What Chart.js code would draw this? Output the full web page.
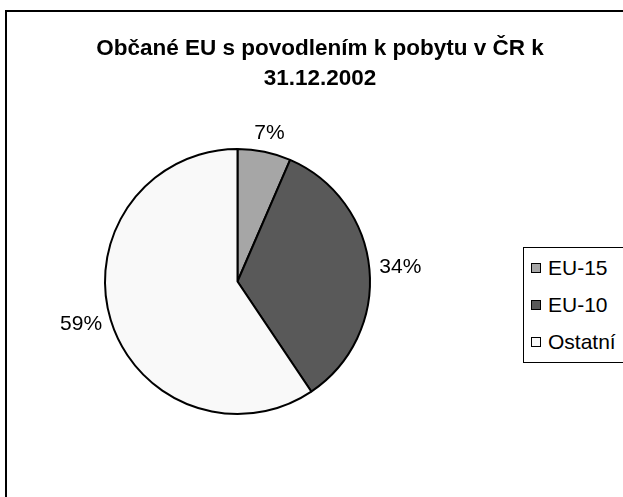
<!DOCTYPE html>
<html>
<head>
<meta charset="utf-8">
<script src="https://cdn.jsdelivr.net/npm/chart.js@4.4.0/dist/chart.umd.min.js"></script>
<style>
  html, body { margin: 0; padding: 0; background: #fff; overflow: hidden; }
  body { width: 623px; height: 497px; position: relative; font-family: "Liberation Sans", Arial, sans-serif; }
  #frame { position: absolute; left: 5px; top: 10px; width: 700px; height: 600px; border: 2px solid #000; box-sizing: border-box; }
  #mainChart { position: absolute; left: 0; top: 0; }
  #legend { position: absolute; left: 523px; top: 247px; width: 140px; height: 116px; border: 1px solid #000; box-sizing: border-box; background: #fff; }
  .legend-swatch { position: absolute; left: 7px; width: 10px; height: 10px; border: 1px solid #000; box-sizing: border-box; }
  .legend-text { position: absolute; left: 24px; font-size: 21px; line-height: 20px; color: #000; white-space: nowrap; }
</style>
</head>
<body>
<div id="frame"></div>
<canvas id="mainChart" width="623" height="497"></canvas>
<div id="legend"></div>
<script>
const labels = ['EU-15', 'EU-10', 'Ostatní'];
const shares = [6.5, 34.1, 59.4];
const colors = ['#a6a6a6', '#595959', '#f9f9f9'];
const titleLines = ['Občané EU s povodlením k pobytu v ČR k', '31.12.2002'];

const FONT = '"Liberation Sans", Arial, sans-serif';

// title spans the whole frame, not just the pie area
const wideTitle = {
  id: 'wideTitle',
  afterLayout(chart) {
    const t = chart.titleBlock;
    t.left = 6;
    t.right = 634;
    t.width = 628;
  }
};

// percentage labels outside the slices
const outsideLabels = {
  id: 'outsideLabels',
  afterDatasetsDraw(chart) {
    const ctx = chart.ctx;
    const meta = chart.getDatasetMeta(0);
    const total = shares.reduce((a, b) => a + b, 0);
    ctx.save();
    ctx.font = '21px ' + FONT;
    ctx.fillStyle = '#000';
    ctx.textAlign = 'center';
    ctx.textBaseline = 'middle';
    meta.data.forEach((arc, i) => {
      const p = arc.getProps(['x', 'y', 'startAngle', 'endAngle', 'outerRadius'], true);
      const mid = (p.startAngle + p.endAngle) / 2;
      const dx = Math.cos(mid), dy = Math.sin(mid);
      const text = Math.round(shares[i] / total * 100) + '%';
      const w = ctx.measureText(text).width, h = 16;
      const d = p.outerRadius + 10;
      ctx.fillText(text, p.x + dx * d + dx * w / 2, p.y + dy * d + dy * h / 2 - 1);
    });
    ctx.restore();
  }
};

function renderLegend() {
  const box = document.getElementById('legend');
  box.innerHTML = '';
  labels.forEach((name, i) => {
    const top = 10 + i * 37;
    const sw = document.createElement('div');
    sw.className = 'legend-swatch';
    sw.style.top = (top + 5) + 'px';
    sw.style.background = colors[i];
    const tx = document.createElement('div');
    tx.className = 'legend-text';
    tx.style.top = top + 'px';
    tx.innerText = name;
    box.appendChild(sw);
    box.appendChild(tx);
  });
}

const ctx = document.getElementById('mainChart').getContext('2d');
new Chart(ctx, {
  type: 'pie',
  data: {
    labels: labels,
    datasets: [{
      data: shares,
      backgroundColor: colors,
      borderColor: '#000',
      borderWidth: 2
    }]
  },
  options: {
    responsive: false,
    animation: false,
    layout: {
      padding: { left: 104, right: 252, top: 0, bottom: 82 }
    },
    plugins: {
      legend: { display: false },
      tooltip: { enabled: false },
      title: {
        display: true,
        text: titleLines,
        color: '#000',
        font: { family: FONT, size: 22.5, weight: 'bold', lineHeight: 30 / 22.5 },
        padding: { top: 34, bottom: 54 }
      }
    }
  },
  plugins: [wideTitle, outsideLabels]
});

renderLegend();
</script>
</body>
</html>
